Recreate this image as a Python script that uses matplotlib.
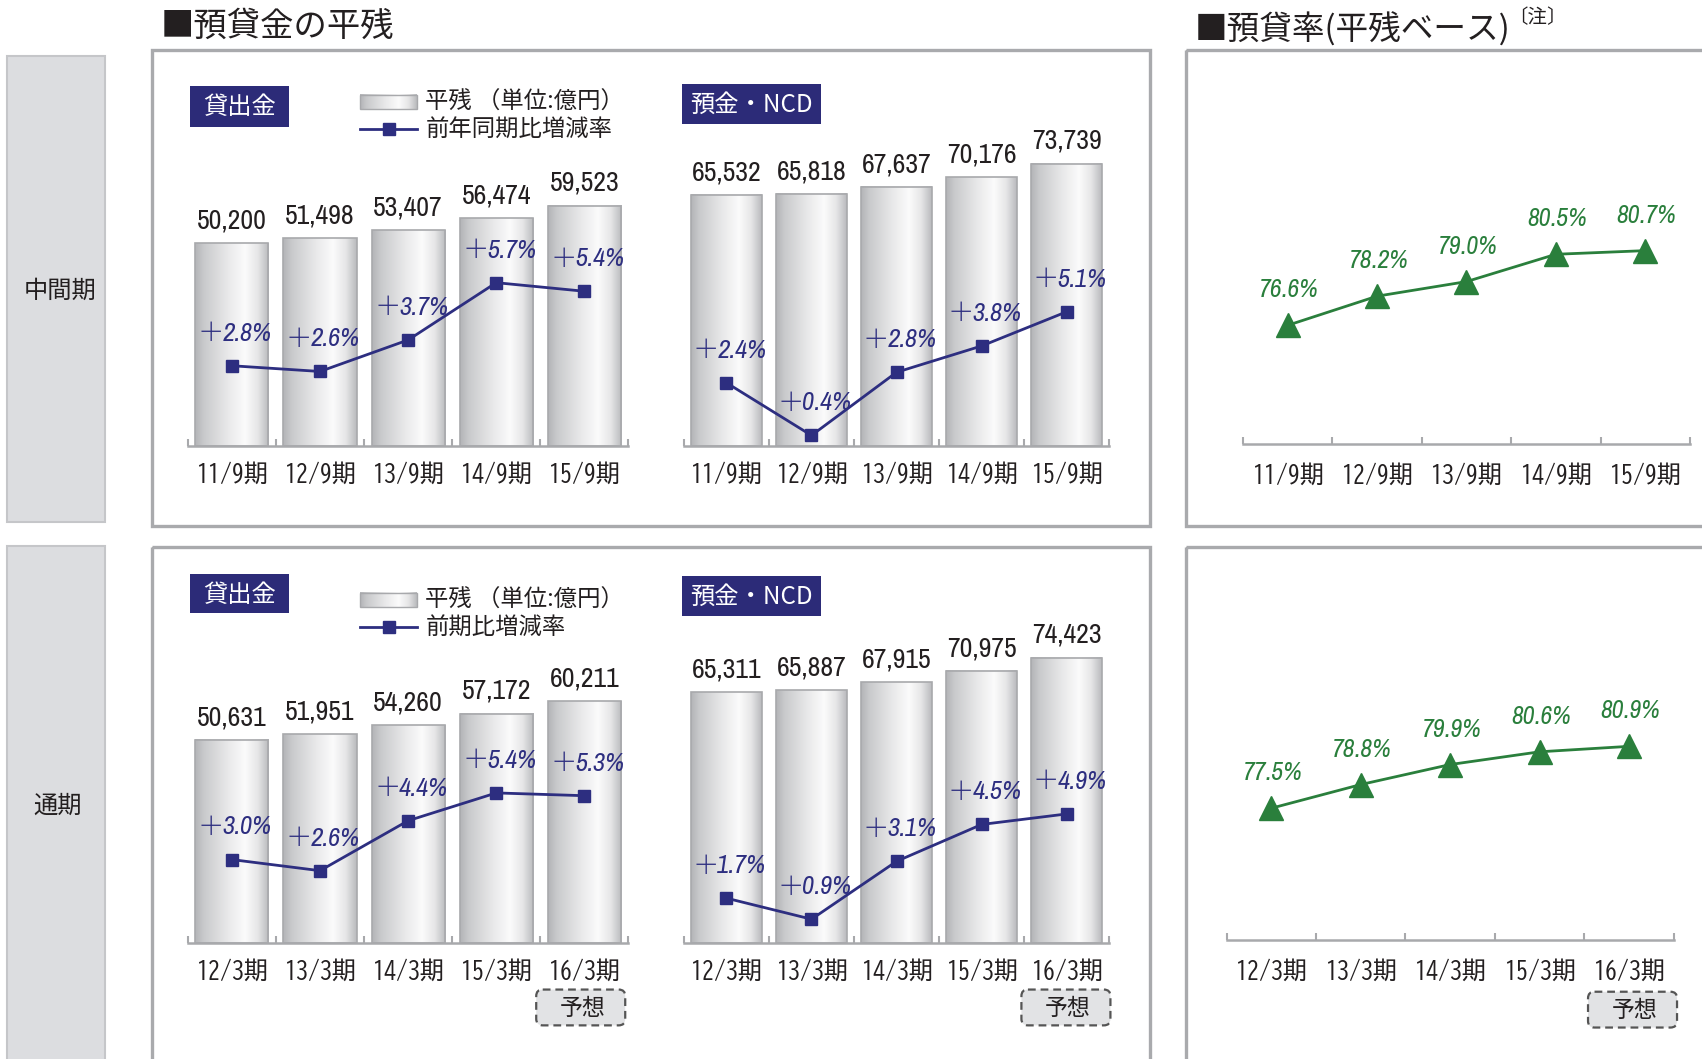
import numpy as np
import matplotlib
matplotlib.use("Agg")
import matplotlib.pyplot as plt
from matplotlib import font_manager
from matplotlib.colors import LinearSegmentedColormap
from matplotlib.patches import Rectangle, FancyBboxPatch

# ---- data -------------------------------------------------------------
interim_periods = ["11/9期", "12/9期", "13/9期", "14/9期", "15/9期"]
fullyear_periods = ["12/3期", "13/3期", "14/3期", "15/3期", "16/3期"]

loans_interim = [50200, 51498, 53407, 56474, 59523]
loans_interim_growth = [2.8, 2.6, 3.7, 5.7, 5.4]
deposits_interim = [65532, 65818, 67637, 70176, 73739]
deposits_interim_growth = [2.4, 0.4, 2.8, 3.8, 5.1]

loans_fullyear = [50631, 51951, 54260, 57172, 60211]
loans_fullyear_growth = [3.0, 2.6, 4.4, 5.4, 5.3]
deposits_fullyear = [65311, 65887, 67915, 70975, 74423]
deposits_fullyear_growth = [1.7, 0.9, 3.1, 4.5, 4.9]

ldr_interim = [76.6, 78.2, 79.0, 80.5, 80.7]
ldr_fullyear = [77.5, 78.8, 79.9, 80.6, 80.9]

# ---- style ------------------------------------------------------------
CJK = ["Noto Sans CJK JP", "DejaVu Sans"]
plt.rcParams["font.family"] = CJK
installed = {f.name for f in font_manager.fontManager.ttflist}


def first_installed(cands, default):
    for c in cands:
        if c in installed:
            return c
    return default


NUM = first_installed(["Archivo Narrow", "Asap Condensed", "Barlow Semi Condensed"], "Liberation Sans")
TICKFONT = [first_installed(["BIZ UDGothic"], "Noto Sans CJK JP"), "Noto Sans CJK JP", "DejaVu Sans"]

NAVY = "#2c2b78"
LINE_NAVY = "#2d2e80"
GREEN = "#2a7f3c"
FRAME = "#a9aaad"
AXIS_GRAY = "#a8a9ac"
TEXT = "#231f20"

bar_cmap = LinearSegmentedColormap.from_list(
    "bar", [(0.0, "#b3b4b7"), (0.12, "#c9cacc"), (0.45, "#e9e9ea"),
            (0.68, "#fbfbfb"), (0.85, "#e6e6e7"), (1.0, "#b9babd")])
GRAD = np.linspace(0, 1, 256).reshape(1, -1)

W, H = 1568, 976
fig = plt.figure(figsize=(17.02, 10.59), dpi=100)

# full-figure layer for frames, headings and badges (layout units, y downward)
deco = fig.add_axes([0, 0, 1, 1], zorder=0)
deco.axis("off")


def panel_axes(x0, x1, ytop, ybase):
    ax = fig.add_axes([x0 / W, 1 - ybase / H, (x1 - x0) / W, (ybase - ytop) / H], zorder=2)
    ax.patch.set_alpha(0)
    return ax


def style_baseline(ax, labels, pad):
    n = len(labels)
    for s in ("top", "left", "right"):
        ax.spines[s].set_visible(False)
    ax.spines["bottom"].set_color(AXIS_GRAY)
    ax.spines["bottom"].set_linewidth(1.8)
    ax.set_xticks(np.arange(n), labels)
    ax.set_xticks(np.arange(-0.5, n), minor=True)
    ax.tick_params(axis="x", which="major", length=0, pad=pad, labelsize=17.2, labelcolor=TEXT)
    ax.tick_params(axis="x", which="minor", direction="in", length=5, width=1.5, color=AXIS_GRAY)
    for t in ax.get_xticklabels():
        t.set_fontfamily(TICKFONT)
    ax.set_yticks([])
    ax.set_xlim(-0.5, n - 0.5)


def bar_panel(x0, x1, ybase, values, growth, labels, vmax, gmax):
    ax = panel_axes(x0, x1, ybase - 311, ybase)
    pos = np.arange(len(values))
    bars = ax.bar(pos, values, width=0.83, facecolor="none", edgecolor=AXIS_GRAY,
                  linewidth=1.2, zorder=3)
    for b in bars:
        ax.imshow(GRAD, cmap=bar_cmap, aspect="auto", interpolation="bicubic", zorder=2,
                  extent=[b.get_x(), b.get_x() + b.get_width(), 0, b.get_height()])
    for p, v in zip(pos, values):
        ax.annotate(f"{v:,}", (p, v), xytext=(0, 16), textcoords="offset points",
                    ha="center", va="center", fontsize=20, family=NUM, color=TEXT)
    style_baseline(ax, labels, 11.5)
    ax.set_ylim(0, vmax)

    ax2 = ax.twinx()
    ax2.plot(pos, growth, color=LINE_NAVY, lw=2, marker="s", ms=9, zorder=4)
    for p, g in zip(pos, growth):
        # thin wide plus sign followed by the italic figure
        ax2.annotate("＋", (p, g), xytext=(-5.5, 23.5), textcoords="offset points",
                     ha="right", va="center", fontsize=19, fontweight="light",
                     family=CJK, color=LINE_NAVY)
        ax2.annotate(f"{g:.1f}%", (p, g), xytext=(-6.5, 23.5), textcoords="offset points",
                     ha="left", va="center", fontsize=19, family=NUM, style="italic",
                     color=LINE_NAVY)
    ax2.set_ylim(0, gmax)
    ax2.set_yticks([])
    for s in ax2.spines.values():
        s.set_visible(False)
    ax2.set_xlim(-0.5, len(values) - 0.5)


def ratio_panel(x0, x1, ybase, values, labels, ymin, ymax):
    ax = panel_axes(x0, x1, ybase - 309, ybase)
    pos = np.arange(len(values))
    ax.plot(pos, values, color=GREEN, lw=2, marker="^", ms=17, zorder=3)
    for p, v in zip(pos, values):
        ax.annotate(f"{v:.1f}%", (p, v), xytext=(1, 25.5), textcoords="offset points",
                    ha="center", va="center", fontsize=18.5, family=NUM, style="italic",
                    color=GREEN)
    style_baseline(ax, labels, 13.5)
    ax.set_ylim(ymin, ymax)


# ---- frames and side labels ------------------------------------------
for y0, h in [(52, 429), (503, 600)]:
    deco.add_patch(Rectangle((6, y0), 91, h, facecolor="#dcdde0", edgecolor="#c5c6c9", lw=1.5))
deco.text(55, 268, "中間期", fontsize=17.5, ha="center", va="center", color=TEXT)
deco.text(53, 743, "通期", fontsize=17.5, ha="center", va="center", color=TEXT)

for x0, y0, w, h in [(140, 46, 919, 439), (140, 504, 919, 600),
                     (1093, 46, 600, 439), (1093, 504, 600, 600)]:
    deco.add_patch(Rectangle((x0, y0), w, h, fill=False, edgecolor=FRAME, lw=2.4))

deco.text(148, 24, "■預貸金の平残", fontsize=24, ha="left", va="center", color=TEXT)
deco.text(1101, 27, "■預貸率(平残ベース)", fontsize=23.5, ha="left", va="center", color=TEXT)
deco.text(1389, 16, "〔注〕", fontsize=14, ha="left", va="center", color=TEXT)

# badges
for x0, y0, w, h, label in [(175, 79, 91, 38, "貸出金"), (628, 77, 128, 37, "預金・NCD"),
                            (175, 529, 91, 36, "貸出金"), (628, 531, 128, 37, "預金・NCD")]:
    deco.add_patch(Rectangle((x0, y0), w, h, facecolor=NAVY, edgecolor="none"))
    deco.text(x0 + w / 2, y0 + h / 2 + 1, label, fontsize=17.5, ha="center", va="center",
              color="white")

# legends
for yr, yl, second in [(94, 119, "前年同期比増減率"), (553, 578, "前期比増減率")]:
    deco.imshow(GRAD, cmap=bar_cmap, aspect="auto", interpolation="bicubic",
                extent=(332, 384, yr + 6.5, yr - 6.5), zorder=2)
    deco.add_patch(Rectangle((332, yr - 6.5), 52, 13, fill=False, edgecolor=AXIS_GRAY,
                             lw=1.0, zorder=3))
    deco.plot([332, 384], [yl, yl], color=LINE_NAVY, lw=2, zorder=3)
    deco.plot([358], [yl], color=LINE_NAVY, marker="s", ms=9, zorder=4)
    deco.text(392, yr, "平残 （単位:億円）", fontsize=16.8, ha="left", va="center", color=TEXT)
    deco.text(392, yl + 1, second, fontsize=16.8, ha="left", va="center", color=TEXT)

# forecast tags
for x0, y0 in [(494, 912), (941, 912), (1463, 914)]:
    deco.add_patch(FancyBboxPatch((x0, y0), 82, 33, boxstyle="round,pad=0,rounding_size=6",
                                  facecolor="#e2e3e5", edgecolor="#555555", lw=1.6,
                                  linestyle=(0, (3.5, 2.2))))
    deco.text(x0 + 43, y0 + 17, "予想", fontsize=16.5, ha="center", va="center", color=TEXT)

deco.set_xlim(0, W)
deco.set_ylim(H, 0)

# ---- charts -----------------------------------------------------------
bar_panel(173, 579, 411, loans_interim, loans_interim_growth, interim_periods, 83600, 11.78)
bar_panel(630, 1022, 411, deposits_interim, deposits_interim_growth, interim_periods, 88100, 12.82)
bar_panel(173, 579, 869, loans_fullyear, loans_fullyear_growth, fullyear_periods, 84100, 12.15)
bar_panel(630, 1022, 869, deposits_fullyear, deposits_fullyear_growth, fullyear_periods, 88000, 12.82)

ratio_panel(1145, 1557, 409, ldr_interim, interim_periods, 70.1, 88.5)
ratio_panel(1130, 1542, 866, ldr_fullyear, fullyear_periods, 70.28, 88.7)

fig.savefig("out.png", dpi=100, facecolor="white")
